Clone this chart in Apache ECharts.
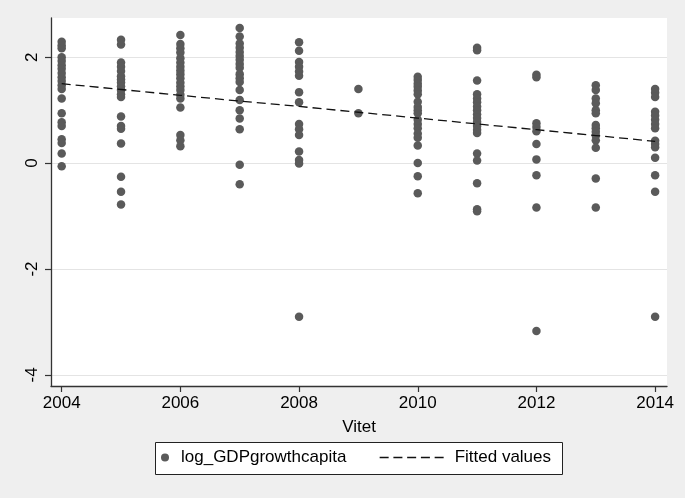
<!DOCTYPE html>
<html>
<head>
<meta charset="utf-8">
<script src="https://cdn.jsdelivr.net/npm/echarts@6/dist/echarts.min.js"></script>
<style>
html,body{margin:0;padding:0;background:#efefef;}
#chart{width:685px;height:498px;}
</style>
</head>
<body>
<div id="chart"></div>
<script>
// ---- data ----
var years = [2004, 2005, 2006, 2007, 2008, 2009, 2010, 2011, 2012, 2013, 2014];
var v2004 = [2.29, 2.22, 2.17, 2.0, 1.93, 1.85, 1.78, 1.7, 1.62, 1.55, 1.47, 1.4, 1.22, 0.94, 0.77, 0.7, 0.45, 0.38, 0.18, -0.06];
var v2005 = [2.33, 2.24, 1.9, 1.82, 1.74, 1.64, 1.58, 1.52, 1.45, 1.38, 1.3, 1.25, 0.88, 0.7, 0.65, 0.37, -0.26, -0.54, -0.78];
var v2006 = [2.42, 2.25, 2.17, 2.09, 1.98, 1.9, 1.82, 1.75, 1.68, 1.6, 1.52, 1.45, 1.38, 1.29, 1.22, 1.05, 0.53, 0.43, 0.32];
var v2007 = [2.55, 2.39, 2.26, 2.18, 2.1, 2.02, 1.95, 1.87, 1.8, 1.68, 1.6, 1.53, 1.38, 1.19, 1.0, 0.84, 0.64, -0.03, -0.4];
var v2008 = [2.28, 2.12, 1.91, 1.82, 1.73, 1.65, 1.34, 1.15, 0.74, 0.64, 0.53, 0.22, 0.06, -0.01, -2.9];
var v2009 = [1.4, 0.94];
var v2010 = [1.63, 1.57, 1.5, 1.44, 1.37, 1.3, 1.16, 1.06, 1.0, 0.94, 0.82, 0.74, 0.66, 0.56, 0.48, 0.33, 0.0, -0.25, -0.57];
var v2011 = [2.18, 2.13, 1.56, 1.3, 1.22, 1.15, 1.07, 1.0, 0.92, 0.85, 0.78, 0.7, 0.63, 0.57, 0.18, 0.05, -0.38, -0.87, -0.91];
var v2012 = [1.67, 1.62, 0.75, 0.68, 0.6, 0.36, 0.07, -0.23, -0.84, -3.17];
var v2013 = [1.47, 1.38, 1.22, 1.13, 1.0, 0.94, 0.72, 0.66, 0.59, 0.52, 0.43, 0.29, -0.29, -0.84];
var v2014 = [1.4, 1.33, 1.25, 0.97, 0.9, 0.82, 0.74, 0.66, 0.42, 0.36, 0.3, 0.1, -0.23, -0.54, -2.9];
var fitted = [1.50, 1.39, 1.28, 1.17, 1.07, 0.96, 0.85, 0.74, 0.63, 0.52, 0.41];
var xTicks = [2004, 2006, 2008, 2010, 2012, 2014];
var yTicks = [-4, -2, 0, 2];

var valuesByYear = [v2004, v2005, v2006, v2007, v2008, v2009, v2010, v2011, v2012, v2013, v2014];
var scatterData = [];
valuesByYear.forEach(function (arr, i) {
  arr.forEach(function (v) { scatterData.push([years[i], v]); });
});
var fitData = years.map(function (y, i) { return [y, fitted[i]]; });

var FONT = 'Liberation Sans, Arial, sans-serif';
var chart = echarts.init(document.getElementById('chart'), null, {renderer: 'canvas'});
chart.setOption({
  backgroundColor: '#efefef',
  animation: false,
  textStyle: {fontFamily: FONT},
  grid: {left: 51, right: 18, top: 18, bottom: 112, show: true, backgroundColor: '#ffffff', borderWidth: 0},
  xAxis: {
    type: 'value', min: 2003.82, max: 2014.2,
    name: 'Vitet', nameLocation: 'middle', nameGap: 33,
    nameTextStyle: {fontSize: 17, color: '#000', fontFamily: FONT},
    axisLine: {show: true, onZero: false, lineStyle: {color: '#333', width: 1.3}},
    axisTick: {show: true, length: 6, customValues: xTicks, lineStyle: {color: '#333', width: 1.2}},
    axisLabel: {customValues: xTicks, fontSize: 17, color: '#000', margin: 9, fontFamily: FONT,
      formatter: function (v) { return String(v); }},
    splitLine: {show: false}
  },
  yAxis: {
    type: 'value', min: -4.21, max: 2.74,
    axisLine: {show: true, onZero: false, lineStyle: {color: '#333', width: 1.3}},
    axisTick: {show: true, length: 6, customValues: yTicks, lineStyle: {color: '#333', width: 1.2}},
    axisLabel: {customValues: yTicks, fontSize: 17, color: '#000', rotate: 90, margin: 10, fontFamily: FONT,
      formatter: function (v) { return String(v); }},
    splitLine: {show: true, lineStyle: {color: '#e4e4e4', width: 1.2}}
  },
  legend: [
    {
      left: 161, top: 449, padding: 0, itemWidth: 20, itemHeight: 8,
      data: [{name: 'log_GDPgrowthcapita', icon: 'circle'}],
      textStyle: {fontSize: 17, color: '#000', fontFamily: FONT, padding: [0, 0, 0, 1]}
    },
    {
      left: 379, top: 449, padding: 0, itemWidth: 64, itemHeight: 8,
      data: ['Fitted values'],
      itemStyle: {opacity: 0},
      lineStyle: {color: '#111', width: 1.3, type: [9, 4.75], opacity: 1},
      textStyle: {fontSize: 17, color: '#000', fontFamily: FONT, padding: [0, 0, 0, 6]}
    }
  ],
  graphic: [{
    type: 'rect', left: 155, top: 442, z: -1,
    shape: {width: 407, height: 32},
    style: {fill: '#ffffff', stroke: '#222', lineWidth: 1}
  }],
  series: [
    {
      name: 'log_GDPgrowthcapita', type: 'scatter', data: scatterData,
      symbol: 'circle', symbolSize: 8.5,
      itemStyle: {color: '#5a5a5a', opacity: 1}
    },
    {
      name: 'Fitted values', type: 'line', data: fitData,
      symbol: 'none', showSymbol: false,
      lineStyle: {color: '#111', width: 1.3, type: [9, 5]},
      itemStyle: {color: '#111'},
      z: 3
    }
  ]
});
</script>
</body>
</html>
